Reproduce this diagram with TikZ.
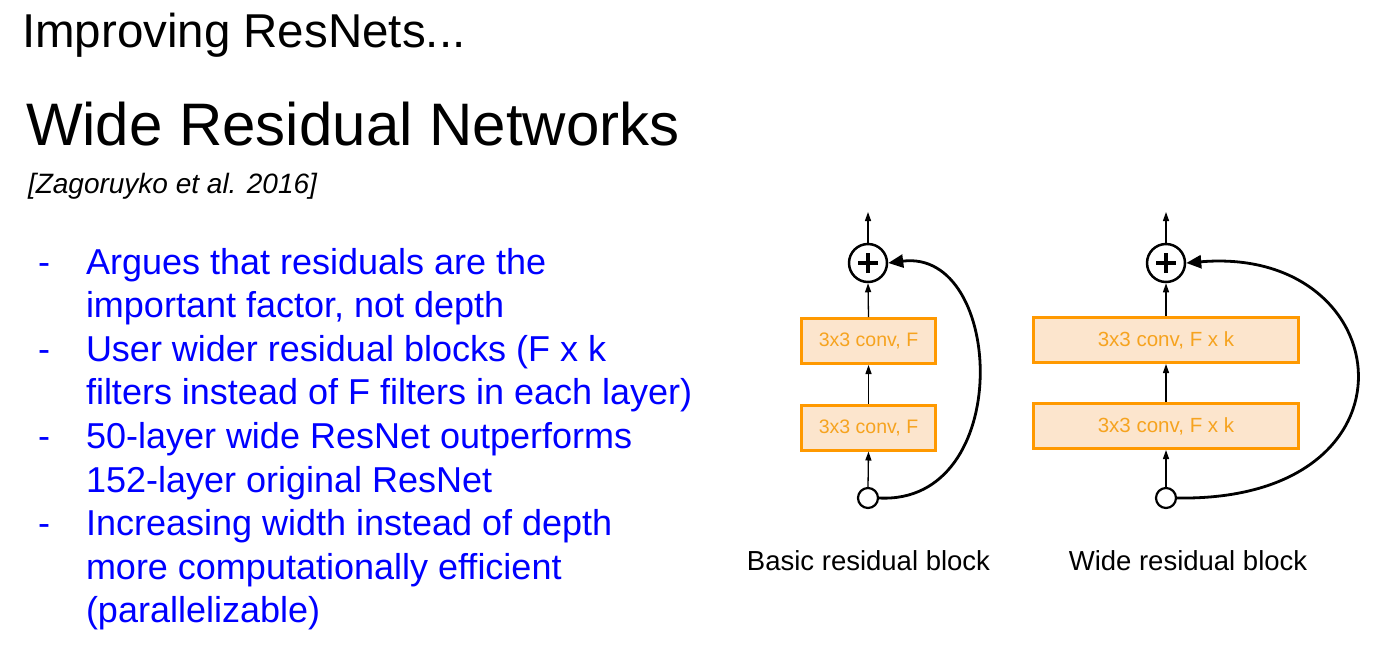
\documentclass[tikz,border=0pt]{standalone}
\usepackage{fontspec}
\setmainfont{Liberation Sans}
\usetikzlibrary{arrows.meta}
\definecolor{bulletblue}{HTML}{0000FF}
\definecolor{boxfill}{HTML}{FCE5CD}
\definecolor{boxdraw}{HTML}{FF9900}
\definecolor{boxtext}{HTML}{F6A31F}
\tikzset{
  convbox/.style={draw=boxdraw, fill=boxfill, line width=3pt, inner sep=0pt, text=boxtext, font=\fontsize{19.5}{22}\selectfont},
  widebox/.style={convbox, font=\fontsize{20.5}{22}\selectfont},
  pluscirc/.style={circle, draw=black, line width=2.5pt, fill=white, minimum size=38pt, inner sep=0pt},
  plusbar/.style={line width=4.8pt},
  incirc/.style={circle, draw=black, line width=2.2pt, fill=white, minimum size=20pt, inner sep=0pt},
  thinarrow/.style={line width=1.3pt, -{Triangle[length=9pt,width=6pt]}},
  skiparrow/.style={line width=2.8pt, -{Triangle[length=15pt,width=13pt]}},
  txt/.style={anchor=base west, inner sep=0pt, outer sep=0pt},
  bullettext/.style={txt, text=bulletblue, font=\fontsize{36}{43.6}\selectfont},
  caption/.style={anchor=base, inner sep=0pt, font=\fontsize{27.5}{30}\selectfont}
}
\begin{document}
\begin{tikzpicture}[x=1pt,y=-1pt]
\useasboundingbox[fill=white] (0,0) rectangle (1396,665);
% titles
\node[txt, font=\fontsize{47.5}{50}\selectfont] (t1) at (22,47) {Improving ResNets...};
\node[txt, font=\fontsize{60}{64}\selectfont] (t2) at (26,145) {Wide Residual Networks};
\node[txt, font=\fontsize{28}{30}\selectfont\itshape] (t3) at (28,193) {[Zagoruyko et al. 2016]};
% bullets
\foreach \y/\n in {274/1, 361.2/2, 448.4/3, 535.6/4}{
  \node[bullettext] (d\n) at (38,\y) {-};
}
\node[bullettext] (l1) at (86,274) {Argues that residuals are the};
\node[bullettext] (l2) at (86,317.6) {important factor, not depth};
\node[bullettext] (l3) at (86,361.2) {User wider residual blocks (F x k};
\node[bullettext] (l4) at (86,404.8) {filters instead of F filters in each layer)};
\node[bullettext] (l5) at (86,448.4) {50-layer wide ResNet outperforms};
\node[bullettext] (l6) at (86,492) {152-layer original ResNet};
\node[bullettext] (l7) at (86,535.6) {Increasing width instead of depth};
\node[bullettext] (l8) at (86,579.2) {more computationally efficient};
\node[bullettext] (l9) at (86,622.8) {(parallelizable)};
% basic block
\coordinate (bout) at (868,212);
\node[pluscirc] (bplus) at (868,263) {};
\draw[plusbar] ([xshift=-10pt]bplus.center) -- ([xshift=10pt]bplus.center);
\draw[plusbar] ([yshift=-10pt]bplus.center) -- ([yshift=10pt]bplus.center);
\node[convbox, minimum width=134pt, minimum height=45pt] (bc1) at (868.5,341) {3x3 conv, F};
\node[convbox, minimum width=134pt, minimum height=45pt] (bc2) at (868.5,427.5) {3x3 conv, F};
\node[incirc] (bin) at (868,498) {};
\draw[thinarrow] (bplus.north) -- (bout);
\draw[thinarrow] (bc1.north) -- (bplus.south);
\draw[thinarrow] (bc2.north) -- (bc1.south);
\draw[thinarrow] (bin.north) -- (bc2.south);
\draw[skiparrow] (bin.east) .. controls (1015,505) and (1005,248) .. (bplus.east);
\node[caption] (cap1) at (868.5,570) {Basic residual block};
% wide block
\coordinate (wout) at (1166,212);
\node[pluscirc] (wplus) at (1166,263) {};
\draw[plusbar] ([xshift=-10pt]wplus.center) -- ([xshift=10pt]wplus.center);
\draw[plusbar] ([yshift=-10pt]wplus.center) -- ([yshift=10pt]wplus.center);
\node[widebox, minimum width=265pt, minimum height=45pt] (wc1) at (1166,340) {3x3 conv, F x k};
\node[widebox, minimum width=265pt, minimum height=45pt] (wc2) at (1166,426) {3x3 conv, F x k};
\node[incirc] (win) at (1166,498) {};
\draw[thinarrow] (wplus.north) -- (wout);
\draw[thinarrow] (wc1.north) -- (wplus.south);
\draw[thinarrow] (wc2.north) -- (wc1.south);
\draw[thinarrow] (win.north) -- (wc2.south);
\draw[skiparrow] (win.east) .. controls (1430,502) and (1400,245) .. (wplus.east);
\node[caption] (cap2) at (1188,570) {Wide residual block};
\end{tikzpicture}
\end{document}
